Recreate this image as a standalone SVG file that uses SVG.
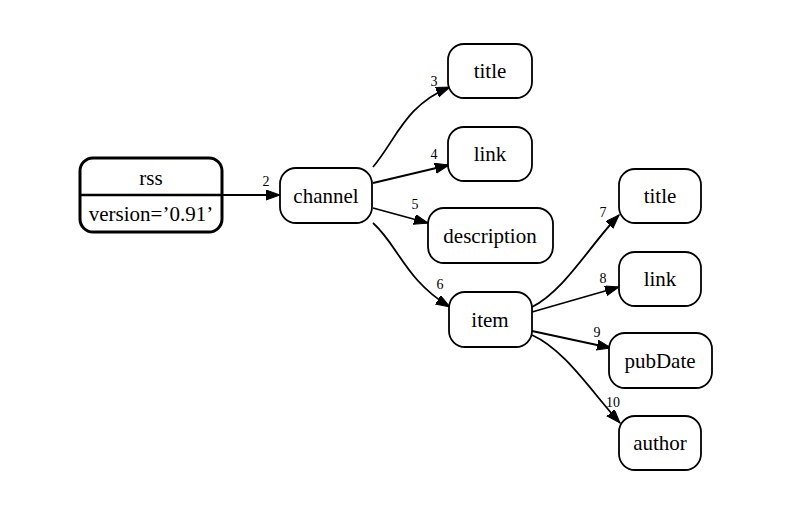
<svg xmlns="http://www.w3.org/2000/svg" width="791" height="514" viewBox="0 0 791 514">
<defs>
<style>
.node{fill:#fff;stroke:#000;stroke-width:1.8}
.rec{fill:#fff;stroke:#000;stroke-width:3}
.t{font-family:"Liberation Serif","Times New Roman",serif;font-size:21px;text-anchor:middle;fill:#000}
.l{font-family:"Liberation Serif","Times New Roman",serif;font-size:14px;text-anchor:middle;fill:#000}
.e{fill:none;stroke:#000;stroke-width:1.8;marker-end:url(#arr)}
</style>
<marker id="arr" markerUnits="userSpaceOnUse" markerWidth="15" markerHeight="11" refX="14" refY="5" orient="auto">
<path d="M0,0 L14,5 L0,10 z" fill="#000" stroke="#000" stroke-width="1"/>
</marker>
</defs>
<rect width="791" height="514" fill="#fff"/>
<g id="connectors">
<path class="e" d="M222,195 L280,195"/>
<path class="e" d="M373,167 C396,140 405,105 450,87"/>
<path class="e" d="M373,183 L449,165"/>
<path class="e" d="M373,208 L428,223"/>
<path class="e" d="M373,223 C398,245 405,280 450,307"/>
<path class="e" d="M532,307 C565,290 590,245 619,215"/>
<path class="e" d="M532,312 L619,287"/>
<path class="e" d="M532,331 L611,348"/>
<path class="e" d="M532,335 C565,350 590,390 620,423"/>
<text class="l" x="266" y="186">2</text>
<text class="l" x="434" y="86">3</text>
<text class="l" x="434" y="159">4</text>
<text class="l" x="415" y="209">5</text>
<text class="l" x="440" y="289">6</text>
<text class="l" x="603" y="217">7</text>
<text class="l" x="603" y="283">8</text>
<text class="l" x="597" y="337">9</text>
<text class="l" x="613" y="407">10</text>
</g>
<g id="rss">
<rect class="rec" x="80" y="158" width="142" height="74" rx="13"/>
<line x1="80" y1="195" x2="222" y2="195" stroke="#000" stroke-width="2.5"/>
<text class="t" x="151" y="185">rss</text>
<text class="t" x="151" y="221">version=’0.91’</text>
</g>
<g id="channel">
<rect class="node" x="280" y="168" width="92" height="55" rx="16"/>
<text class="t" x="326" y="203">channel</text>
</g>
<g id="title1">
<rect class="node" x="448" y="44" width="84" height="54" rx="16"/>
<text class="t" x="490" y="78">title</text>
</g>
<g id="link1">
<rect class="node" x="448" y="127" width="84" height="54" rx="16"/>
<text class="t" x="490" y="161">link</text>
</g>
<g id="description">
<rect class="node" x="428" y="208" width="125" height="55" rx="16"/>
<text class="t" x="490" y="243">description</text>
</g>
<g id="item">
<rect class="node" x="449" y="292" width="83" height="55" rx="16"/>
<text class="t" x="490" y="327">item</text>
</g>
<g id="title2">
<rect class="node" x="619" y="169" width="82" height="54" rx="16"/>
<text class="t" x="660" y="203">title</text>
</g>
<g id="link2">
<rect class="node" x="619" y="252" width="82" height="54" rx="16"/>
<text class="t" x="660" y="286">link</text>
</g>
<g id="pubDate">
<rect class="node" x="609" y="333" width="103" height="55" rx="16"/>
<text class="t" x="660" y="368">pubDate</text>
</g>
<g id="author">
<rect class="node" x="619" y="416" width="82" height="54" rx="16"/>
<text class="t" x="660" y="450">author</text>
</g>
</svg>
